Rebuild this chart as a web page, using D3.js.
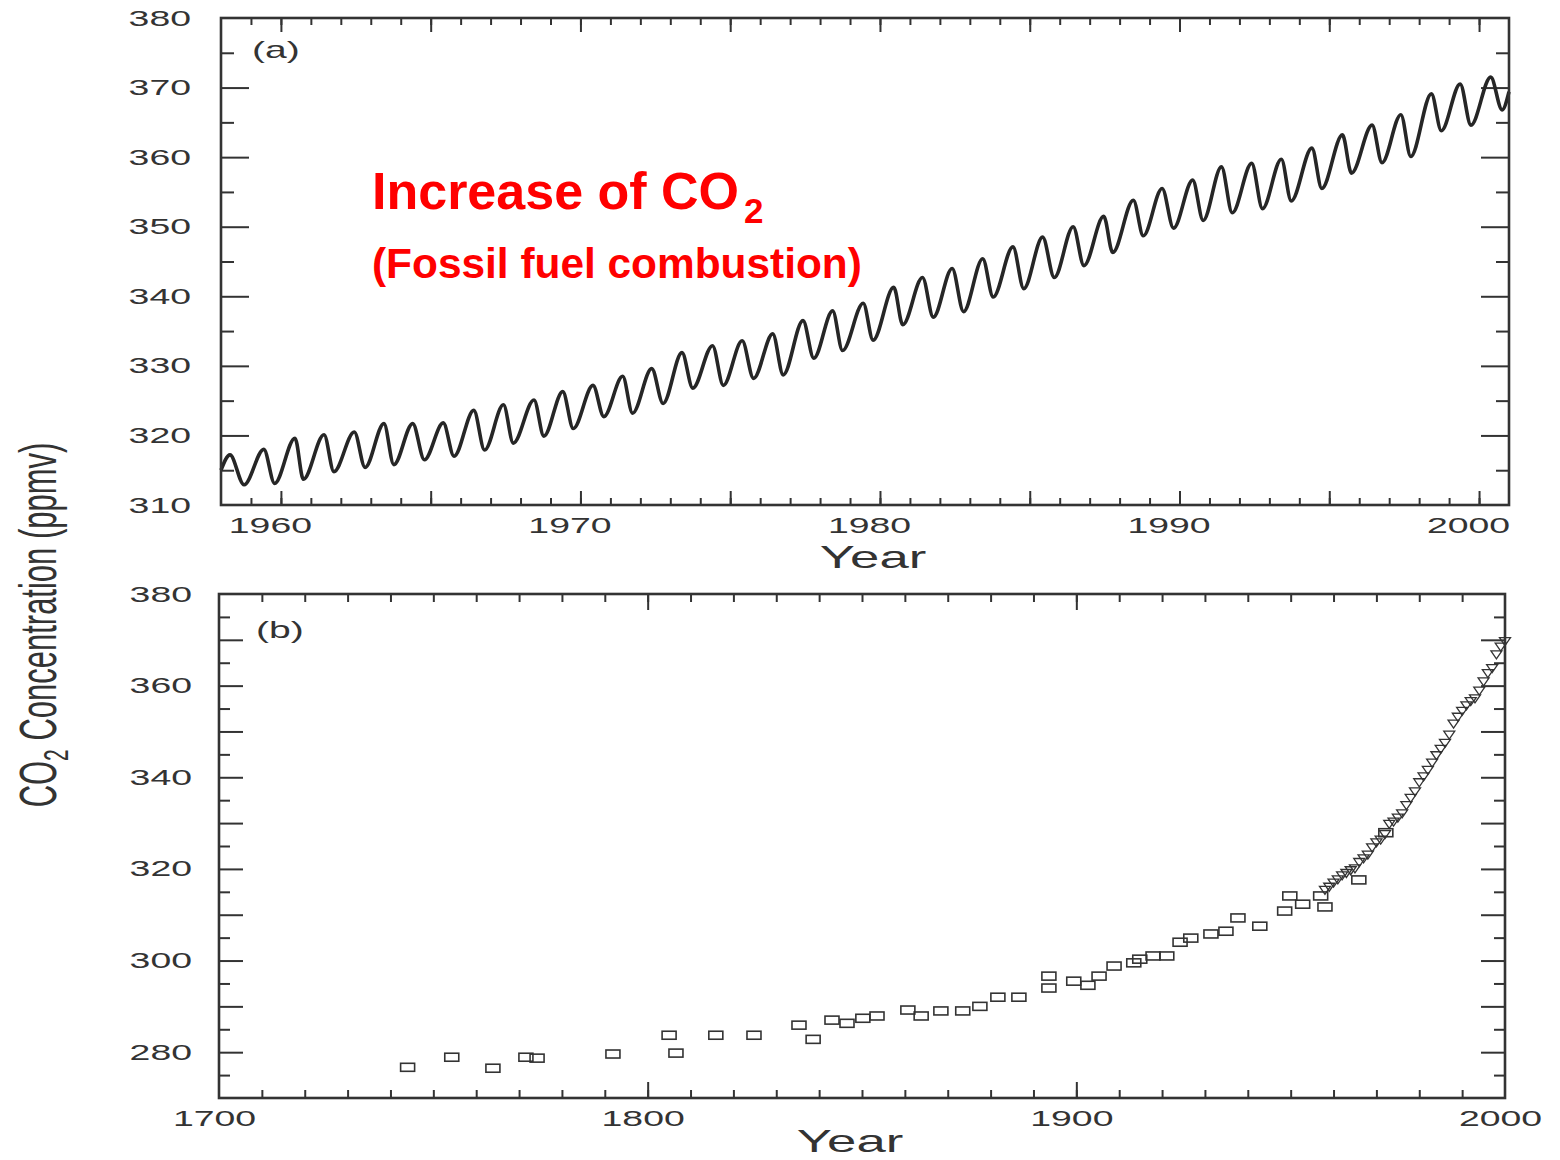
<!DOCTYPE html>
<html>
<head>
<meta charset="utf-8">
<script src="https://cdn.jsdelivr.net/npm/d3@7"></script>
<style>
    body { margin: 0; background: #fff; }
    svg { display: block; }
</style>
</head>
<body>
<div id="chart"></div>
<script>
// (a) Mauna Loa record: seasonal highs and lows [year, ppmv]
const mloStart = [[1958.0, 315.0]];
const mloPeaks = [
    [1958.30, 317.2], [1959.43, 318.0], [1960.47, 319.6], [1961.44, 320.1], [1962.45, 320.5],
    [1963.44, 321.7], [1964.40, 321.7], [1965.42, 321.8], [1966.44, 323.6], [1967.43, 324.4],
    [1968.45, 325.1], [1969.41, 326.3], [1970.42, 327.2], [1971.41, 328.5], [1972.38, 329.6],
    [1973.39, 331.9], [1974.41, 332.9], [1975.40, 333.6], [1976.42, 334.6], [1977.43, 336.5],
    [1978.42, 337.9], [1979.44, 339.0], [1980.46, 341.3], [1981.42, 342.7], [1982.41, 344.0],
    [1983.43, 345.4], [1984.44, 347.1], [1985.43, 348.5], [1986.45, 350.0], [1987.47, 351.5],
    [1988.46, 353.8], [1989.42, 355.5], [1990.44, 356.7], [1991.40, 358.6], [1992.41, 359.1],
    [1993.40, 359.7], [1994.42, 361.3], [1995.44, 363.2], [1996.43, 364.6], [1997.39, 366.1],
    [1998.41, 369.1], [1999.37, 370.5], [2000.39, 371.5]
];
const mloTroughs = [
    [1958.77, 312.9], [1959.79, 313.1], [1960.75, 313.7], [1961.77, 314.8], [1962.81, 315.4],
    [1963.77, 315.8], [1964.79, 316.5], [1965.78, 317.0], [1966.80, 317.9], [1967.76, 318.9],
    [1968.78, 319.9], [1969.76, 321.0], [1970.78, 322.7], [1971.74, 323.2], [1972.76, 324.6],
    [1973.75, 326.8], [1974.77, 327.2], [1975.78, 328.2], [1976.77, 328.7], [1977.79, 331.1],
    [1978.75, 332.2], [1979.77, 333.7], [1980.76, 335.9], [1981.78, 337.0], [1982.79, 337.8],
    [1983.78, 339.9], [1984.80, 341.1], [1985.82, 342.7], [1986.81, 344.4], [1987.77, 346.3],
    [1988.79, 348.7], [1989.80, 349.8], [1990.79, 350.9], [1991.76, 352.0], [1992.77, 352.6],
    [1993.73, 353.7], [1994.75, 355.5], [1995.74, 357.7], [1996.76, 359.2], [1997.72, 360.1],
    [1998.74, 363.8], [1999.73, 364.6], [2000.77, 366.8]
];
const mloEnd = [[2001.0, 369.4]];

// (b) ice core values (squares) and Mauna Loa annual means (triangles)
const iceCore = [
    [1744, 276.7], [1754.3, 278.9], [1763.9, 276.5], [1771.6, 278.9], [1774.2, 278.7],
    [1791.9, 279.6], [1805, 283.7], [1806.6, 279.8], [1815.9, 283.7], [1824.8, 283.7],
    [1835.3, 285.9], [1838.6, 282.8], [1843, 287.0], [1846.5, 286.3], [1850.2, 287.4],
    [1853.5, 287.9], [1860.7, 289.2], [1863.8, 287.9], [1868.4, 289.0], [1873.5, 289.0],
    [1877.5, 290.0], [1881.7, 292.0], [1886.6, 292.0], [1893.6, 296.6], [1893.6, 294.0],
    [1899.4, 295.5], [1902.7, 294.6], [1905.3, 296.6], [1908.8, 298.8], [1913.4, 299.5],
    [1914.8, 300.3], [1917.9, 301.0], [1921.1, 301.0], [1924.2, 304.0], [1926.7, 304.9],
    [1931.4, 305.8], [1934.9, 306.4], [1937.7, 309.3], [1942.8, 307.5], [1948.6, 310.8],
    [1949.8, 314.1], [1952.8, 312.3], [1957, 314.1], [1958, 311.7], [1965.9, 317.6],
    [1972.2, 327.9]
];
const mloYears = d3.range(1958, 2001);
const mloAnnual = [
    315.3, 316.0, 316.9, 317.6, 318.5, 319.0, 319.6, 320.0, 321.4, 322.2,
    323.0, 324.6, 325.7, 326.3, 327.5, 329.7, 330.2, 331.1, 332.0, 333.8,
    335.4, 336.8, 338.8, 340.1, 341.5, 343.1, 344.7, 346.1, 347.4, 349.2,
    351.6, 353.1, 354.4, 355.6, 356.5, 357.1, 358.8, 360.8, 362.6, 363.7,
    366.7, 368.4, 369.6
];

// ticks and labels
const topYLabels = [310, 320, 330, 340, 350, 360, 370, 380];
const topXLabels = [1960, 1970, 1980, 1990, 2000];
const botYLabels = [280, 300, 320, 340, 360, 380];
const botXLabels = [1700, 1800, 1900, 2000];

const W = 1560, H = 1160;
const SX = 1.7;          // the scanned figure is stretched sideways
const INK = '#333';
const FONT = '"Liberation Sans", Arial, sans-serif';

const svg = d3.select('#chart').append('svg')
    .attr('width', W)
    .attr('height', H)
    .style('background', '#fff');

const TOP = {x0: 221, x1: 1509, y0: 18, y1: 505};
const BOT = {x0: 219, x1: 1505, y0: 594, y1: 1098};

const xTop = d3.scaleLinear().domain([1958, 2001]).range([TOP.x0, TOP.x1]);
const yTop = d3.scaleLinear().domain([310, 380]).range([TOP.y1, TOP.y0]);
const xBot = d3.scaleLinear().domain([1700, 2000]).range([BOT.x0, BOT.x1]);
const yBot = d3.scaleLinear().domain([270, 380]).range([BOT.y1, BOT.y0]);

function tickSet(box, xs, ys, xVals, yVals, xLen, yLen) {
    const axes = [
        [d3.axisBottom(xs), `translate(0,${box.y1})`, xVals, xLen],
        [d3.axisTop(xs), `translate(0,${box.y0})`, xVals, xLen],
        [d3.axisLeft(ys), `translate(${box.x0},0)`, yVals, yLen],
        [d3.axisRight(ys), `translate(${box.x1},0)`, yVals, yLen]
    ];
    axes.forEach(([ax, tr, vals, len]) => {
        const g = svg.append('g')
            .attr('transform', tr)
            .attr('color', INK)
            .call(ax.tickValues(vals).tickSize(-len).tickFormat(''));
        g.select('.domain').remove();
        g.selectAll('line').attr('stroke-width', 2);
    });
}

function labelAxis(ax, tr, vals, pad, dx) {
    const g = svg.append('g')
        .attr('transform', tr)
        .attr('color', INK)
        .call(ax.tickValues(vals).tickSize(0).tickPadding(pad).tickFormat(d3.format('d')));
    g.select('.domain').remove();
    g.attr('font-size', 22).attr('font-family', FONT);
    g.selectAll('text')
        .attr('x', function () { return (+d3.select(this).attr('x') || 0) / SX + dx / SX; })
        .attr('transform', `scale(${SX},1)`);
    return g;
}

function stretchedText(x, y, str, size) {
    return svg.append('text')
        .attr('transform', `translate(${x},${y}) scale(${SX},1)`)
        .attr('font-family', FONT)
        .attr('font-size', size)
        .attr('fill', INK)
        .text(str);
}

// ---------- panel (a)
const minorYears = d3.range(1959, 2001);
const majorYears = d3.range(1960, 2001, 5);
tickSet(TOP, xTop, yTop, minorYears, d3.range(315, 380, 10), 7, 13);
tickSet(TOP, xTop, yTop, majorYears, d3.range(320, 380, 10), 14, 28);

const mloSeries = mloStart.concat(mloPeaks, mloTroughs, mloEnd).sort((a, b) => a[0] - b[0]);
const topLine = d3.line()
    .x(d => xTop(d[0]))
    .y(d => yTop(d[1]))
    .curve(d3.curveMonotoneX);

svg.append('path')
    .datum(mloSeries)
    .attr('d', topLine)
    .attr('fill', 'none')
    .attr('stroke', '#262626')
    .attr('stroke-width', 3.6)
    .attr('stroke-linejoin', 'round');

svg.append('rect')
    .attr('x', TOP.x0).attr('y', TOP.y0)
    .attr('width', TOP.x1 - TOP.x0).attr('height', TOP.y1 - TOP.y0)
    .attr('fill', 'none').attr('stroke', INK).attr('stroke-width', 2.6);

labelAxis(d3.axisLeft(yTop), `translate(${TOP.x0},0)`, topYLabels, 30, 0);
labelAxis(d3.axisBottom(xTop), `translate(0,${TOP.y1})`, topXLabels, 12, -11);
stretchedText(252, 58, '(a)', 23);
stretchedText(873, 568, 'Year', 31).attr('text-anchor', 'middle');

// red annotation
const note = svg.append('g')
    .attr('font-family', FONT)
    .attr('font-weight', 'bold')
    .attr('fill', '#ff0000');
const t1 = note.append('text').attr('x', 372).attr('y', 209).attr('font-size', 52);
t1.append('tspan').text('Increase of CO');
t1.append('tspan').attr('font-size', 35).attr('dx', 5).attr('dy', 14).text('2');
note.append('text').attr('x', 372).attr('y', 278).attr('font-size', 42.4)
    .text('(Fossil fuel combustion)');

// ---------- panel (b)
tickSet(BOT, xBot, yBot, d3.range(1710, 2000, 10), d3.range(275, 380, 10), 8, 11);
tickSet(BOT, xBot, yBot, [1800, 1900], d3.range(280, 380, 10), 16, 24);

svg.append('g')
    .selectAll('rect')
    .data(iceCore)
    .join('rect')
    .attr('x', d => xBot(d[0]) - 7)
    .attr('y', d => yBot(d[1]) - 4)
    .attr('width', 14)
    .attr('height', 8)
    .attr('fill', 'none')
    .attr('stroke', INK)
    .attr('stroke-width', 1.6);

const tri = 'M-5.5,-4L5.5,-4L0,4Z';
svg.append('g')
    .selectAll('path')
    .data(mloYears)
    .join('path')
    .attr('transform', (d, i) => `translate(${xBot(d)},${yBot(mloAnnual[i])})`)
    .attr('d', tri)
    .attr('fill', 'none')
    .attr('stroke', INK)
    .attr('stroke-width', 1.3);

svg.append('rect')
    .attr('x', BOT.x0).attr('y', BOT.y0)
    .attr('width', BOT.x1 - BOT.x0).attr('height', BOT.y1 - BOT.y0)
    .attr('fill', 'none').attr('stroke', INK).attr('stroke-width', 2.6);

labelAxis(d3.axisLeft(yBot), `translate(${BOT.x0},0)`, botYLabels, 27, 0);
labelAxis(d3.axisBottom(xBot), `translate(0,${BOT.y1})`, botXLabels, 12, -5);
stretchedText(256, 638, '(b)', 23);
stretchedText(850, 1152, 'Year', 31).attr('text-anchor', 'middle');

// shared y label, rotated
const yl = svg.append('text')
    .attr('transform', `translate(56,625) scale(${SX},1) rotate(-90)`)
    .attr('text-anchor', 'middle')
    .attr('font-family', FONT)
    .attr('font-size', 31)
    .attr('fill', INK);
yl.append('tspan').text('CO');
yl.append('tspan').attr('font-size', 21).attr('dy', 7).text('2');
yl.append('tspan').attr('dy', -7).text(' Concentration (ppmv)');
</script>
</body>
</html>
